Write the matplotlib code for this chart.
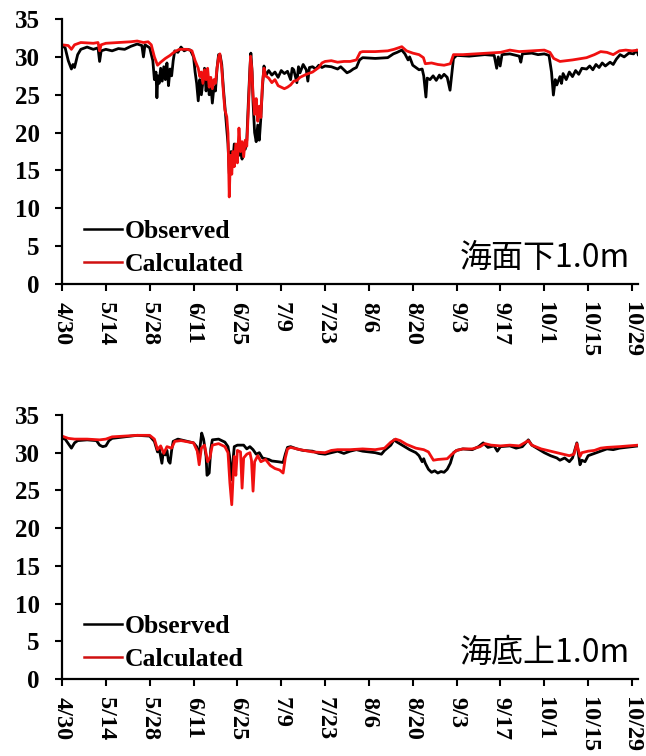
import matplotlib
matplotlib.use("Agg")
import matplotlib.pyplot as plt

# ---- tick labels (days counted from 4/30) ----
tick_days = [0, 14, 28, 42, 56, 70, 84, 98, 112, 126, 140, 154, 168, 182]
tick_labels = ["4/30", "5/14", "5/28", "6/11", "6/25", "7/9", "7/23",
               "8/6", "8/20", "9/3", "9/17", "10/1", "10/15", "10/29"]

# ---- 1.0 m below the surface ----
obs_top_day = [0, 1, 2, 3, 3.5, 4, 5, 6, 8, 10, 11.5, 12, 12.5, 14, 16, 18, 20, 22, 24, 25.5,
               26, 26.5, 28, 29, 29.5, 30, 30.3, 30.6, 31, 31.5, 32, 32.5, 33, 33.5, 34, 34.5,
               35, 35.5, 36, 37, 38, 39, 40, 41, 42, 42.5, 43, 43.5, 44, 44.5, 45, 45.5, 46,
               46.5, 47, 47.5, 48, 48.5, 49, 49.5, 50, 50.5, 51, 51.5, 52, 52.5, 53, 53.4, 54,
               54.5, 55, 55.5, 56, 56.5, 57, 57.5, 58, 58.5, 59, 59.5, 60, 60.3, 60.7, 61, 61.5,
               62, 62.5, 63, 63.5, 64, 64.5, 65, 66, 67, 68, 69, 70, 71, 72, 73, 73.5, 74, 75,
               75.5, 76, 77, 78, 78.5, 79, 80, 81, 82, 83, 84, 86, 88, 89, 90, 91, 92, 93, 94,
               95, 96, 100, 104, 105.8, 107, 108.5, 109.5, 110.5, 111, 112, 113, 114, 115, 115.5,
               116.2, 116.6, 117.5, 118.5, 119.5, 120.5, 121, 122, 123, 123.9, 124.4, 125, 126,
               130, 135, 138, 138.8, 139.3, 139.9, 140.5, 143, 146, 146.5, 147, 150, 152, 154,
               155.5, 156.3, 156.9, 157.5, 158, 159, 159.5, 160, 161, 162, 163, 164, 165, 166,
               167.5, 168.5, 169.5, 170.5, 171.5, 172.5, 173.5, 175, 176, 177, 178.2, 179.5,
               181, 182.5, 183.5, 184]
obs_top_val = [31.5, 31.2, 29.5, 28.4, 29.0, 28.6, 30.3, 31.0, 31.3, 31.0, 31.2, 29.4, 30.8, 31.0,
               30.8, 31.1, 31.0, 31.4, 31.7, 31.5, 30.0, 31.6, 31.2, 29.5, 27.0, 28.0, 24.6, 27.5,
               26.5, 28.5, 26.8, 28.7, 27.0, 29.2, 26.2, 28.4, 27.5, 29.5, 30.8, 30.6, 31.3, 30.8,
               31.0, 30.9, 30.0, 28.0, 26.5, 24.2, 27.0, 25.0, 26.8, 28.5, 25.5, 27.5, 25.0, 26.5,
               23.9, 26.0, 25.5, 28.5, 30.3, 30.2, 29.0, 26.0, 23.5, 21.0, 18.5, 14.6, 17.5, 16.0,
               18.5, 16.5, 18.0, 17.0, 17.5, 16.5, 18.0, 17.8, 19.0, 24.0, 28.5, 30.5, 28.0, 24.0,
               20.0, 18.8, 21.0, 19.0, 22.0, 26.0, 28.8, 27.5, 28.2, 27.6, 28.0, 27.3, 28.2, 27.8,
               28.1, 27.0, 28.5, 28.3, 26.6, 28.7, 27.9, 29.0, 28.3, 26.8, 28.6, 28.7, 28.4, 28.9,
               28.6, 28.8, 28.7, 28.4, 28.7, 28.3, 27.9, 28.1, 28.4, 28.6, 29.6, 29.9, 29.8, 29.9,
               30.4, 30.6, 30.9, 30.4, 29.6, 30.0, 28.9, 28.6, 28.3, 28.4, 27.5, 24.7, 27.2, 27.0,
               27.5, 26.9, 27.6, 27.2, 27.7, 27.3, 25.6, 27.5, 29.8, 30.2, 30.1, 30.3, 30.2, 28.5,
               30.0, 28.8, 30.3, 30.4, 30.1, 29.3, 30.4, 30.5, 30.3, 30.4, 30.2, 28.0, 24.96, 27.0,
               26.3, 27.4, 26.5, 27.8, 27.0, 28.0, 27.4, 28.2, 27.7, 28.5, 28.4, 28.8, 28.3, 29.0,
               28.6, 29.2, 28.8, 29.3, 29.0, 29.7, 30.3, 30.0, 30.5, 30.4, 30.9, 30.3]

calc_top_day = [0, 2, 3, 4, 6, 10, 11.5, 12, 12.5, 14, 18, 22, 24, 26, 27.5, 28.5, 29.5, 30.5,
                31.5, 33, 34.5, 36, 37.5, 40, 41.5, 42.5, 43.5, 44, 44.5, 45, 45.5, 46, 46.5,
                47, 47.5, 48, 48.5, 49, 49.5, 50, 50.4, 51, 51.5, 52, 52.6, 53, 53.4, 53.8, 54.2,
                54.6, 55, 55.5, 56, 56.5, 57, 57.5, 58, 58.5, 59, 59.5, 60, 60.2, 60.6, 61, 61.5,
                62, 62.5, 63, 63.5, 64, 64.5, 65, 66, 67, 68, 69, 70, 71, 72, 73, 74, 75, 76, 78,
                80, 82, 83, 84, 86, 88, 90, 92, 94, 95.2, 96, 100, 104, 106, 108.5, 110, 112, 114,
                115.4, 116, 118, 120, 122, 124, 125, 128, 132, 136, 140, 143, 146, 150, 154, 155.8,
                157, 159, 163, 167.5, 170, 172, 174, 176, 178, 180, 182, 184]
calc_top_val = [31.6, 31.5, 31.0, 31.6, 31.9, 31.8, 31.9, 30.8, 31.6, 31.8, 31.9, 32.0, 32.1,
                31.9, 32.0, 31.6, 30.0, 28.9, 29.3, 29.8, 30.2, 30.7, 31.0, 31.0, 30.8, 29.5,
                28.5, 27.4, 28.0, 26.5, 28.3, 27.0, 28.5, 26.0, 27.3, 25.8, 27.0, 26.5, 28.5,
                30.0, 30.4, 28.5, 25.5, 23.0, 22.1, 19.9, 11.5, 17.0, 14.5, 17.5, 15.5, 18.5,
                16.0, 20.6, 17.5, 18.8, 16.8, 19.0, 18.2, 23.0, 28.0, 30.1, 28.5, 25.0, 22.4,
                24.5, 21.5, 23.5, 22.0, 26.5, 28.5, 27.5, 27.2, 26.6, 27.0, 26.2, 26.0, 25.8,
                26.0, 26.3, 26.8, 26.9, 27.3, 27.7, 28.0, 28.6, 29.2, 29.4, 29.5, 29.3, 29.4,
                29.4, 29.6, 30.6, 30.7, 30.7, 30.8, 31.0, 31.35, 30.8, 30.5, 30.3, 29.9, 29.1,
                29.2, 29.0, 28.9, 29.1, 30.3, 30.3, 30.4, 30.5, 30.6, 30.9, 30.7, 30.8, 30.9,
                30.6, 29.8, 29.4, 29.6, 29.9, 30.3, 30.7, 30.6, 30.3, 30.8, 30.9, 30.8, 30.9]

# ---- 1.0 m above the seabed ----
obs_bot_day = [0, 1, 2, 3, 4, 5, 8, 11, 12, 13, 14, 15, 16, 20, 24, 28, 29.5, 30.5, 31, 31.9,
               32.3, 33, 33.5, 34, 34.5, 35, 35.5, 37, 40, 42, 43, 43.5, 44, 44.6, 45.2, 46,
               46.3, 47, 47.5, 48, 50, 52, 53, 53.5, 54, 54.5, 55, 56, 58, 59, 60, 61, 62, 63,
               64, 66, 67, 69, 70.6, 71.3, 72, 73, 75, 77, 80, 82, 84, 86, 88, 90, 92, 94, 96,
               100, 102, 103, 105, 106, 107, 109, 111, 113, 114, 115, 115.5, 116, 117, 118, 119,
               120, 121, 122, 123, 124, 125, 126, 128, 131, 133, 134.5, 136, 138, 139, 140, 143,
               145, 147, 148.9, 150, 152, 154, 156, 158, 159, 160.5, 162, 163, 164.4, 165.4,
               166, 167, 168, 170, 172, 174, 176, 178, 180, 182, 184]
obs_bot_val = [31.9, 31.8, 31.2, 30.6, 31.3, 31.6, 31.7, 31.6, 31.0, 30.8, 30.9, 31.6, 31.9,
               32.1, 32.3, 32.2, 31.5, 30.1, 30.6, 28.6, 30.0, 29.7, 30.3, 28.9, 28.6, 30.3,
               31.5, 31.8, 31.5, 31.3, 30.8, 29.8, 30.5, 32.6, 31.8, 29.5, 27.0, 27.3, 30.5,
               31.7, 31.8, 31.4, 30.8, 29.5, 26.4, 28.5, 30.8, 31.0, 31.0, 30.5, 30.8, 30.4,
               29.8, 30.0, 29.3, 29.1, 28.9, 28.8, 28.7, 29.8, 30.7, 30.8, 30.5, 30.3, 30.2,
               29.9, 29.8, 30.0, 30.2, 29.9, 30.2, 30.4, 30.2, 30.0, 29.8, 30.3, 31.0, 31.7,
               31.4, 30.9, 30.4, 30.0, 29.6, 28.8, 29.2, 28.6, 27.8, 27.4, 27.6, 27.3, 27.5,
               27.4, 27.8, 28.6, 30.0, 30.3, 30.5, 30.4, 30.8, 31.3, 30.7, 30.9, 30.2, 30.8,
               30.9, 30.6, 30.8, 31.7, 31.0, 30.5, 30.0, 29.6, 29.3, 29.0, 29.3, 28.8, 29.3,
               31.3, 28.4, 29.0, 28.8, 29.6, 29.9, 30.2, 30.5, 30.4, 30.6, 30.7, 30.8, 30.9]

calc_bot_day = [0, 2, 4, 8, 12, 14, 16, 20, 24, 28, 29.5, 30.5, 31.5, 32.5, 33.5, 35, 36, 38, 42,
                43.2, 43.8, 44.5, 45.5, 46.5, 47.2, 48, 50, 52, 53, 53.6, 54.2, 54.6, 55, 55.5,
                56, 57, 57.5, 58, 59, 60, 60.5, 61, 61.5, 62.5, 63.5, 65, 66.5, 68, 69.5, 70.6,
                71.3, 72, 73, 76, 80, 84, 86, 88, 92, 96, 100, 103, 105, 106.5, 108, 110, 113,
                115.5, 117, 118.6, 120, 123, 124.5, 126, 128, 131, 133.5, 135, 137, 140, 143, 146,
                148.9, 150, 153, 156, 159, 162, 163.5, 164.4, 165.4, 166, 168, 170, 172, 174,
                178, 181, 184]
calc_bot_val = [32.2, 31.9, 31.8, 31.8, 31.7, 31.8, 32.1, 32.2, 32.3, 32.3, 31.8, 30.4, 30.9,
                29.9, 30.8, 30.6, 31.5, 31.6, 31.3, 30.2, 28.4, 30.6, 31.0, 28.8, 29.3, 31.0,
                31.2, 30.8, 30.0, 26.0, 23.1, 26.5, 29.5, 27.0, 30.3, 30.1, 25.3, 29.3, 29.8,
                30.0, 29.0, 24.9, 28.8, 29.6, 28.8, 29.1, 28.3, 27.9, 27.7, 27.3, 29.3, 30.5,
                30.7, 30.4, 30.1, 30.0, 30.3, 30.4, 30.4, 30.5, 30.4, 30.6, 31.4, 31.8, 31.6,
                31.1, 30.6, 30.4, 30.1, 29.0, 29.1, 29.2, 29.8, 30.3, 30.5, 30.5, 30.8, 31.2,
                31.0, 30.9, 31.0, 30.9, 31.6, 31.0, 30.5, 30.2, 29.9, 29.6, 29.8, 31.2, 29.5,
                30.0, 30.2, 30.3, 30.6, 30.7, 30.8, 30.9, 31.0]

panels = [
    (obs_top_day, obs_top_val, calc_top_day, calc_top_val, "海面下1.0m"),
    (obs_bot_day, obs_bot_val, calc_bot_day, calc_bot_val, "海底上1.0m"),
]

SERIF = "Liberation Serif"
CJK = ["Noto Sans CJK JP", "DejaVu Sans"]

fig = plt.figure(figsize=(6.46, 7.56), dpi=100)
rects = [[0.096, 0.6243, 0.892, 0.3505], [0.096, 0.1019, 0.892, 0.3492]]

for rect, (od, ov, cd, cv, depth) in zip(rects, panels):
    ax = fig.add_axes(rect)
    ax.plot(od, ov, color="black", lw=2.0, label="Observed")
    ax.plot(cd, cv, color="#f01010", lw=2.0, label="Calculated")
    ax.set_xlim(0, 184)
    ax.set_ylim(0, 35)
    ax.set_yticks(range(0, 36, 5))
    ax.set_xticks(tick_days)
    ax.set_xticklabels(tick_labels, rotation=-90, ha="center", va="top")
    for spine in ("top", "right"):
        ax.spines[spine].set_visible(False)
    for spine in ("left", "bottom"):
        ax.spines[spine].set_linewidth(1.6)
    ax.tick_params(axis="both", direction="out", length=5, width=1.5)
    ax.tick_params(axis="x", pad=8)
    ax.tick_params(axis="y", pad=11)
    for lab in ax.get_xticklabels():
        lab.set_fontfamily(SERIF)
        lab.set_fontweight("bold")
        lab.set_fontsize(17.5)
    for lab in ax.get_yticklabels():
        lab.set_fontfamily(SERIF)
        lab.set_fontweight("bold")
        lab.set_fontsize(18)
    leg = ax.legend(loc="lower left", bbox_to_anchor=(0.038, 0.03), frameon=False,
                    handlelength=1.5, handletextpad=0.1, labelspacing=0.4,
                    borderpad=0, borderaxespad=0,
                    prop={"family": SERIF, "weight": "bold", "size": 18.5})
    for h in leg.get_lines():
        h.set_linewidth(1.8)
    leg.get_lines()[1].set_color("#d01010")
    ax.text(0.986, 0.064, depth, transform=ax.transAxes, ha="right", va="baseline",
            fontsize=23, family=CJK)

fig.savefig("out.png", dpi=100)
